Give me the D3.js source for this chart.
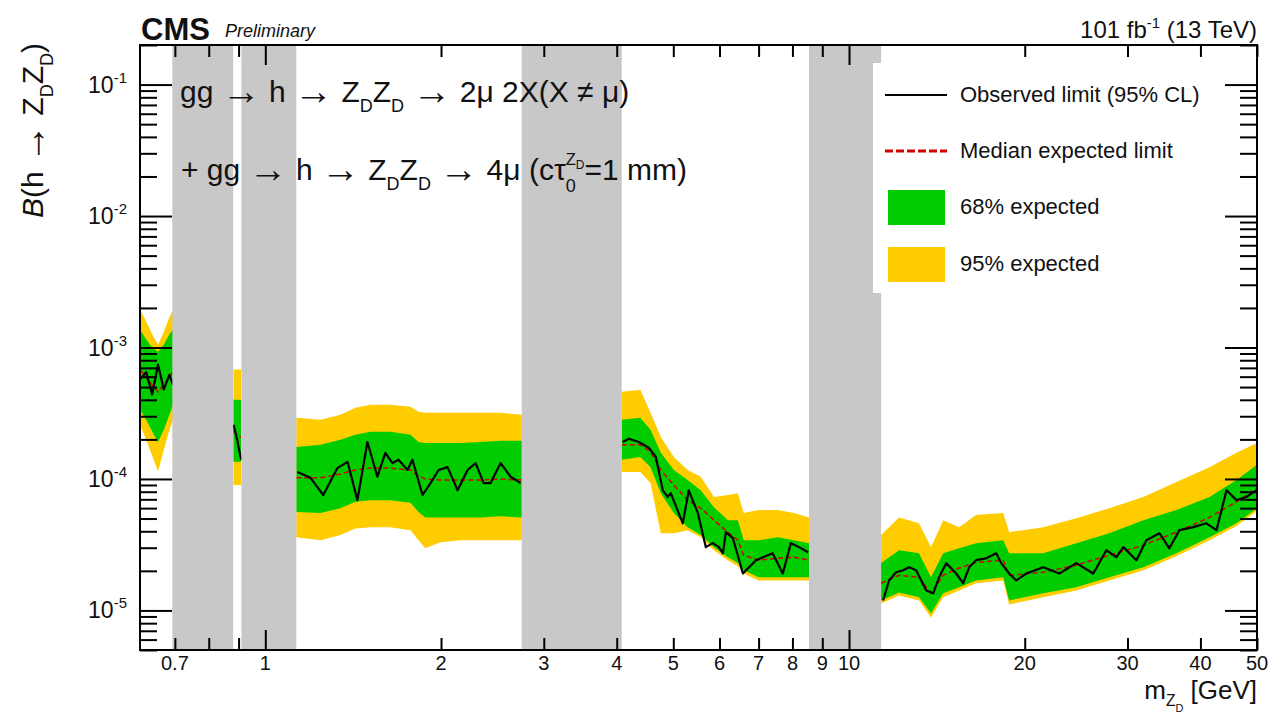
<!DOCTYPE html>
<html>
<head>
<meta charset="utf-8">
<script src="https://cdn.jsdelivr.net/npm/d3@7"></script>
<style>
  body { margin: 0; background: #fff; }
  text { font-family: "Liberation Sans", Arial, Helvetica, sans-serif; white-space: pre; fill: #111; }
</style>
</head>
<body>
<script>
// expected limit + bands, null marks a gap (vetoed mass window)
const expMass = [0.61, 0.625, 0.64, 0.655, 0.67, 0.685, 0.695, null,
  0.882, 0.895, 0.909, null,
  1.13, 1.243, 1.345, 1.427, 1.514, 1.638, 1.773, 1.83, 1.88, 1.995, 2.159, 2.337, 2.529, 2.75, null,
  4.08, 4.39, 4.57, 4.76, 5.01, 5.29, 5.57, 5.87, 6.20, 6.45, 6.60, 7.00, 7.55, 8.05, 8.54, null,
  11.35, 12.18, 13.18, 13.82, 14.50, 15.44, 16.51, 18.37, 18.81, 21.51, 24.51, 27.92, 31.94, 36.38, 41.45, 46.11, 50];
const expLimit = [6.8e-4, 5.9e-4, 5.2e-4, 4.6e-4, 5.2e-4, 5.9e-4, 6.6e-4, null,
  2.3e-4, 2.17e-4, 2.08e-4, null,
  1.02e-4, 1.02e-4, 1.09e-4, 1.17e-4, 1.21e-4, 1.21e-4, 1.17e-4, 1.05e-4, 1.0e-4, 9.8e-5, 9.8e-5, 9.8e-5, 1.0e-4, 9.8e-5, null,
  1.82e-4, 1.82e-4, 1.61e-4, 1.17e-4, 9.0e-5, 6.9e-5, 6.0e-5, 4.86e-5, 3.94e-5, 3.42e-5, 2.63e-5, 2.41e-5, 2.49e-5, 2.54e-5, 2.41e-5, null,
  1.61e-5, 1.85e-5, 1.79e-5, 1.35e-5, 1.85e-5, 2.10e-5, 2.32e-5, 2.41e-5, 1.85e-5, 1.95e-5, 2.21e-5, 2.63e-5, 3.13e-5, 3.94e-5, 5.1e-5, 6.7e-5, 8.5e-5];
const lo68 = [3.36e-4, 2.82e-4, 2.3e-4, 1.9e-4, 2.37e-4, 3.08e-4, 3.67e-4, null,
  1.35e-4, 1.35e-4, 1.35e-4, null,
  5.6e-5, 5.5e-5, 6.0e-5, 6.7e-5, 6.9e-5, 6.9e-5, 6.6e-5, 5.6e-5, 5.1e-5, 5.1e-5, 5.1e-5, 5.1e-5, 5.2e-5, 5.1e-5, null,
  1.40e-4, 1.47e-4, 1.23e-4, 7.8e-5, 5.5e-5, 4.3e-5, 3.74e-5, 3.03e-5, 2.54e-5, 2.29e-5, 2.02e-5, 1.79e-5, 1.79e-5, 1.79e-5, 1.79e-5, null,
  1.19e-5, 1.37e-5, 1.26e-5, 9.5e-6, 1.35e-5, 1.50e-5, 1.69e-5, 1.79e-5, 1.19e-5, 1.35e-5, 1.50e-5, 1.79e-5, 2.13e-5, 2.72e-5, 3.6e-5, 4.6e-5, 6.0e-5];
const hi68 = [1.37e-3, 1.15e-3, 1.0e-3, 9.3e-4, 1.05e-3, 1.26e-3, 1.37e-3, null,
  4.0e-4, 4.0e-4, 4.0e-4, null,
  1.75e-4, 1.82e-4, 1.99e-4, 2.17e-4, 2.29e-4, 2.29e-4, 2.17e-4, 1.91e-4, 1.88e-4, 1.88e-4, 1.88e-4, 1.91e-4, 1.95e-4, 1.95e-4, null,
  2.82e-4, 2.92e-4, 2.37e-4, 1.58e-4, 1.17e-4, 9.8e-5, 8.2e-5, 6.1e-5, 4.86e-5, 4.86e-5, 3.42e-5, 3.42e-5, 3.6e-5, 3.42e-5, 3.25e-5, null,
  2.29e-5, 2.87e-5, 2.72e-5, 1.79e-5, 2.72e-5, 2.97e-5, 3.25e-5, 3.42e-5, 2.72e-5, 2.72e-5, 3.25e-5, 3.87e-5, 4.86e-5, 5.8e-5, 7.3e-5, 9.8e-5, 1.28e-4];
const lo95 = [2.58e-4, 1.99e-4, 1.5e-4, 1.14e-4, 1.66e-4, 2.37e-4, 2.82e-4, null,
  9.0e-5, 9.0e-5, 9.0e-5, null,
  3.6e-5, 3.42e-5, 3.74e-5, 4.2e-5, 4.3e-5, 4.3e-5, 4.08e-5, 3.42e-5, 2.97e-5, 3.3e-5, 3.42e-5, 3.42e-5, 3.42e-5, 3.42e-5, null,
  1.13e-4, 1.13e-4, 9.3e-5, 3.87e-5, 3.87e-5, 4.08e-5, 3.6e-5, 2.87e-5, 2.41e-5, 2.17e-5, 1.91e-5, 1.69e-5, 1.69e-5, 1.69e-5, 1.69e-5, null,
  1.13e-5, 1.30e-5, 1.19e-5, 8.85e-6, 1.26e-5, 1.42e-5, 1.61e-5, 1.69e-5, 1.11e-5, 1.26e-5, 1.42e-5, 1.69e-5, 2.02e-5, 2.58e-5, 3.42e-5, 4.38e-5, 5.7e-5];
const hi95 = [1.95e-3, 1.58e-3, 1.26e-3, 1.05e-3, 1.31e-3, 1.7e-3, 1.95e-3, null,
  6.8e-4, 6.8e-4, 6.8e-4, null,
  2.92e-4, 2.82e-4, 3.08e-4, 3.48e-4, 3.67e-4, 3.67e-4, 3.55e-4, 3.25e-4, 3.19e-4, 3.19e-4, 3.19e-4, 3.19e-4, 3.19e-4, 3.08e-4, null,
  4.61e-4, 4.78e-4, 3.19e-4, 2.09e-4, 1.47e-4, 1.17e-4, 1.04e-4, 7.3e-5, 7.55e-5, 7.8e-5, 5.5e-5, 5.8e-5, 5.8e-5, 5.5e-5, 5.1e-5, null,
  3.74e-5, 5.1e-5, 4.6e-5, 3.03e-5, 4.86e-5, 4.3e-5, 5.31e-5, 5.5e-5, 3.94e-5, 4.3e-5, 5.03e-5, 6.0e-5, 7.3e-5, 9.5e-5, 1.23e-4, 1.58e-4, 1.88e-4];

// observed limit
const obsMass = [0.61, 0.625, 0.64, 0.655, 0.67, 0.685, 0.695, null,
  0.882, 0.895, 0.909, null,
  1.135, 1.195, 1.257, 1.329, 1.383, 1.438, 1.496, 1.556, 1.606, 1.651, 1.691, 1.752, 1.787, 1.859, 1.919, 1.981, 2.052, 2.135, 2.221, 2.293, 2.366, 2.432, 2.53, 2.632, 2.738, null,
  4.096, 4.195, 4.363, 4.539, 4.667, 4.797, 4.893, 4.95, 5.19, 5.315, 5.508, 5.685, 5.844, 5.984, 6.08, 6.152, 6.324, 6.58, 6.74, 6.93, 7.12, 7.40, 7.70, 7.95, 8.21, 8.51, null,
  11.44, 11.71, 12.04, 12.38, 12.67, 13.03, 13.56, 13.94, 14.27, 14.67, 15.26, 15.69, 16.06, 16.51, 17.18, 17.87, 18.23, 18.81, 19.34, 20.12, 21.51, 22.93, 24.51, 26.21, 27.6, 28.71, 29.51, 31.07, 32.32, 34.02, 35.39, 36.81, 38.9, 40.96, 42.61, 44.33, 46.11, 47.97, 49.9];
const obsLimit = [5.7e-4, 6.5e-4, 4.4e-4, 7.4e-4, 4.8e-4, 6.2e-4, 5.2e-4, null,
  2.58e-4, 1.99e-4, 1.40e-4, null,
  1.13e-4, 1.02e-4, 7.55e-5, 1.21e-4, 1.35e-4, 6.9e-5, 1.91e-4, 1.04e-4, 1.58e-4, 1.32e-4, 1.40e-4, 1.17e-4, 1.40e-4, 7.55e-5, 9.3e-5, 1.17e-4, 1.23e-4, 8.2e-5, 1.17e-4, 1.32e-4, 9.3e-5, 9.3e-5, 1.32e-4, 1.04e-4, 9.3e-5, null,
  1.91e-4, 2.02e-4, 1.91e-4, 1.73e-4, 1.47e-4, 8.2e-5, 7.3e-5, 7.8e-5, 4.6e-5, 8.2e-5, 5.5e-5, 3.03e-5, 3.25e-5, 3.03e-5, 2.72e-5, 3.94e-5, 3.55e-5, 1.91e-5, 2.13e-5, 2.41e-5, 2.54e-5, 2.72e-5, 1.91e-5, 3.25e-5, 3.03e-5, 2.77e-5, null,
  1.19e-5, 1.69e-5, 1.95e-5, 2.02e-5, 2.13e-5, 2.02e-5, 1.42e-5, 1.35e-5, 1.79e-5, 2.29e-5, 1.91e-5, 1.61e-5, 2.13e-5, 2.41e-5, 2.49e-5, 2.72e-5, 2.29e-5, 1.91e-5, 1.69e-5, 1.91e-5, 2.13e-5, 1.91e-5, 2.29e-5, 1.91e-5, 2.87e-5, 2.54e-5, 3.03e-5, 2.41e-5, 3.42e-5, 3.87e-5, 2.97e-5, 4.08e-5, 4.3e-5, 4.6e-5, 4.08e-5, 8.2e-5, 6.9e-5, 7.3e-5, 8.2e-5];

// vetoed mass windows (grey)
const vetoLo = [0.693, 0.910, 2.75, 8.54];
const vetoHi = [0.881, 1.130, 4.08, 11.35];

const xLabels = [0.7, 1, 2, 3, 4, 5, 6, 7, 8, 9, 10, 20, 30, 40, 50];
const yLabels = [1e-1, 1e-2, 1e-3, 1e-4, 1e-5];

const legendItems = ['Observed limit (95% CL)', 'Median expected limit', '68% expected', '95% expected'];

const pL = 140, pR = 1257, pT = 45, pB = 650;

const x = d3.scaleLog().domain([0.61, 50]).range([pL, pR]);
const y = d3.scaleLog().domain([5e-6, 0.2]).range([pB, pT]);

const svg = d3.select('body').append('svg')
  .attr('width', 1269)
  .attr('height', 716);

svg.append('clipPath').attr('id', 'plot')
  .append('rect')
  .attr('x', pL).attr('y', pT)
  .attr('width', pR - pL).attr('height', pB - pT);

const expRows = expMass.map((m, i) => ({ m, e: expLimit[i], l1: lo68[i], h1: hi68[i], l2: lo95[i], h2: hi95[i] }));
const obsRows = obsMass.map((m, i) => ({ m, v: obsLimit[i] }));

const band = (lo, hi) => d3.area()
  .defined(d => d.m != null)
  .x(d => x(d.m))
  .y0(d => y(d[lo]))
  .y1(d => y(d[hi]));

const plot = svg.append('g').attr('clip-path', 'url(#plot)');

plot.append('path').datum(expRows).attr('d', band('l2', 'h2')).attr('fill', '#ffcc00');
plot.append('path').datum(expRows).attr('d', band('l1', 'h1')).attr('fill', '#00cc00');

plot.append('path').datum(expRows)
  .attr('d', d3.line().defined(d => d.m != null).x(d => x(d.m)).y(d => y(d.e)))
  .attr('fill', 'none')
  .attr('stroke', '#d40000')
  .attr('stroke-width', 1.5)
  .attr('stroke-dasharray', '5,3');

plot.append('path').datum(obsRows)
  .attr('d', d3.line().defined(d => d.m != null).x(d => x(d.m)).y(d => y(d.v)))
  .attr('fill', 'none')
  .attr('stroke', '#000')
  .attr('stroke-width', 2.2)
  .attr('stroke-linejoin', 'round');

plot.selectAll('rect.veto')
  .data(vetoLo)
  .join('rect')
  .attr('class', 'veto')
  .attr('x', d => x(d))
  .attr('width', (d, i) => x(vetoHi[i]) - x(d))
  .attr('y', pT)
  .attr('height', pB - pT)
  .attr('fill', '#c8c8c8');

// rich text: runs laid out left to right, sub/superscripts via dy (in em of base size)
// arrows are set a bit larger in DejaVu Sans so they come out long like ROOT's #rightarrow
function richText(parent, x0, y0, size, runs) {
  const g = parent.append('g');
  let maxEnd = x0, prevEnd = x0, groupStart = x0;
  const put = (txt, px, py, fs, arrow, it) => {
    const t = g.append('text').attr('x', px).attr('y', py).attr('font-size', fs).text(txt);
    if (arrow) t.attr('font-family', '"DejaVu Sans", sans-serif');
    if (it) t.attr('font-style', 'italic');
    return px + t.node().getComputedTextLength();
  };
  runs.forEach(r => {
    let px = r.at === 'stack' ? groupStart : r.at === 'prev' ? prevEnd : maxEnd;
    if (!r.at) groupStart = px;
    const fs = size * (r.s || 1);
    const py = y0 + (r.dy || 0) * size;
    r.t.split(/(→)/).filter(p => p !== '').forEach(p => {
      px = p === '→' ? put(p, px, py + 0.08 * fs, fs * 1.3, true) : put(p, px, py, fs, false, r.it);
    });
    prevEnd = px;
    maxEnd = Math.max(maxEnd, prevEnd);
  });
  return { g, width: maxEnd - x0 };
}

// legend
const legend = svg.append('g');
legend.append('rect').attr('x', 873).attr('y', 63).attr('width', 345).attr('height', 230).attr('fill', '#fff');
const rowY = [95, 151, 207, 264];
legend.append('line').attr('x1', 885).attr('x2', 947).attr('y1', rowY[0]).attr('y2', rowY[0])
  .attr('stroke', '#000').attr('stroke-width', 2);
legend.append('line').attr('x1', 885).attr('x2', 947).attr('y1', rowY[1]).attr('y2', rowY[1])
  .attr('stroke', '#d40000').attr('stroke-width', 3).attr('stroke-dasharray', '8,3');
legend.append('rect').attr('x', 888).attr('y', rowY[2] - 17).attr('width', 57).attr('height', 35).attr('fill', '#00cc00');
legend.append('rect').attr('x', 888).attr('y', rowY[3] - 17).attr('width', 57).attr('height', 35).attr('fill', '#ffcc00');
legend.selectAll('text.leg')
  .data(legendItems)
  .join('text')
  .attr('class', 'leg')
  .attr('x', 960)
  .attr('y', (d, i) => rowY[i] + 7)
  .attr('font-size', 22)
  .text(d => d);

// process annotation
richText(svg, 180, 102, 30, [
  { t: 'gg → h → Z' }, { t: 'D', s: 0.6, dy: 0.32 }, { t: 'Z' }, { t: 'D', s: 0.6, dy: 0.32 },
  { t: ' → 2μ 2X(X ≠ μ)' }
]);
richText(svg, 181, 180, 30, [
  { t: '+ gg → h → Z' }, { t: 'D', s: 0.6, dy: 0.32 }, { t: 'Z' }, { t: 'D', s: 0.6, dy: 0.32 },
  { t: ' → 4μ (cτ' }, { t: '0', s: 0.6, dy: 0.4 },
  { t: 'Z', s: 0.55, dy: -0.5, at: 'stack' }, { t: 'D', s: 0.4, dy: -0.38, at: 'prev' },
  { t: '=1 mm)' }
]);

// frame and ticks
const isMajor = v => Math.abs(Math.log10(v) - Math.round(Math.log10(v))) < 1e-9;
const xt = x.ticks();
const yt = y.ticks();

function tickAxis(axis, tr, vals, size) {
  const g = svg.append('g').attr('transform', tr)
    .call(axis.tickValues(vals).tickSizeInner(size).tickSizeOuter(0).tickFormat(''));
  g.select('.domain').remove();
  g.selectAll('line').attr('stroke', '#000').attr('stroke-width', 2);
}
tickAxis(d3.axisBottom(x), `translate(0,${pB})`, xt.filter(isMajor), -20);
tickAxis(d3.axisBottom(x), `translate(0,${pB})`, xt.filter(v => !isMajor(v)), -12);
tickAxis(d3.axisTop(x), `translate(0,${pT})`, xt.filter(isMajor), -20);
tickAxis(d3.axisTop(x), `translate(0,${pT})`, xt.filter(v => !isMajor(v)), -12);
tickAxis(d3.axisLeft(y), `translate(${pL},0)`, yt.filter(isMajor), -32);
tickAxis(d3.axisLeft(y), `translate(${pL},0)`, yt.filter(v => !isMajor(v)), -17);
tickAxis(d3.axisRight(y), `translate(${pR},0)`, yt.filter(isMajor), -32);
tickAxis(d3.axisRight(y), `translate(${pR},0)`, yt.filter(v => !isMajor(v)), -17);

svg.append('rect')
  .attr('x', pL).attr('y', pT)
  .attr('width', pR - pL).attr('height', pB - pT)
  .attr('fill', 'none').attr('stroke', '#000').attr('stroke-width', 2);

// tick labels
svg.append('g').selectAll('text')
  .data(xLabels)
  .join('text')
  .attr('x', d => x(d))
  .attr('y', 670)
  .attr('text-anchor', 'middle')
  .attr('font-size', 20)
  .text(d => String(d));

const yl = svg.append('g').selectAll('text')
  .data(yLabels)
  .join('text')
  .attr('x', 127)
  .attr('y', d => y(d) + 8)
  .attr('text-anchor', 'end')
  .attr('font-size', 23);
yl.append('tspan').text('10');
yl.append('tspan').attr('font-size', 15).attr('dy', -10).text(d => '-' + Math.round(-Math.log10(d)));

// axis titles
const xTitle = richText(svg, 0, 699, 26, [
  { t: 'm' }, { t: 'Z', s: 0.6, dy: 0.28 }, { t: 'D', s: 0.42, dy: 0.5, at: 'prev' }, { t: ' [GeV]' }
]);
xTitle.g.attr('transform', `translate(${pR - xTitle.width},0)`);

const yTitle = richText(svg, 0, 0, 30, [
  { t: 'B', it: true }, { t: '(h → Z' }, { t: 'D', s: 0.6, dy: 0.32 }, { t: 'Z' }, { t: 'D', s: 0.6, dy: 0.32 }, { t: ')' }
]);
yTitle.g.attr('transform', `translate(43,${43 + yTitle.width}) rotate(-90)`);

// header
svg.append('text').attr('x', 141).attr('y', 40).attr('font-size', 31).attr('font-weight', 'bold').text('CMS');
svg.append('text').attr('x', 225).attr('y', 37).attr('font-size', 18).attr('font-style', 'italic').text('Preliminary');
const lumi = richText(svg, 0, 38, 24, [
  { t: '101 fb' }, { t: '-1', s: 0.62, dy: -0.4 }, { t: ' (13 TeV)' }
]);
lumi.g.attr('transform', `translate(${pR - lumi.width},0)`);
</script>
</body>
</html>
